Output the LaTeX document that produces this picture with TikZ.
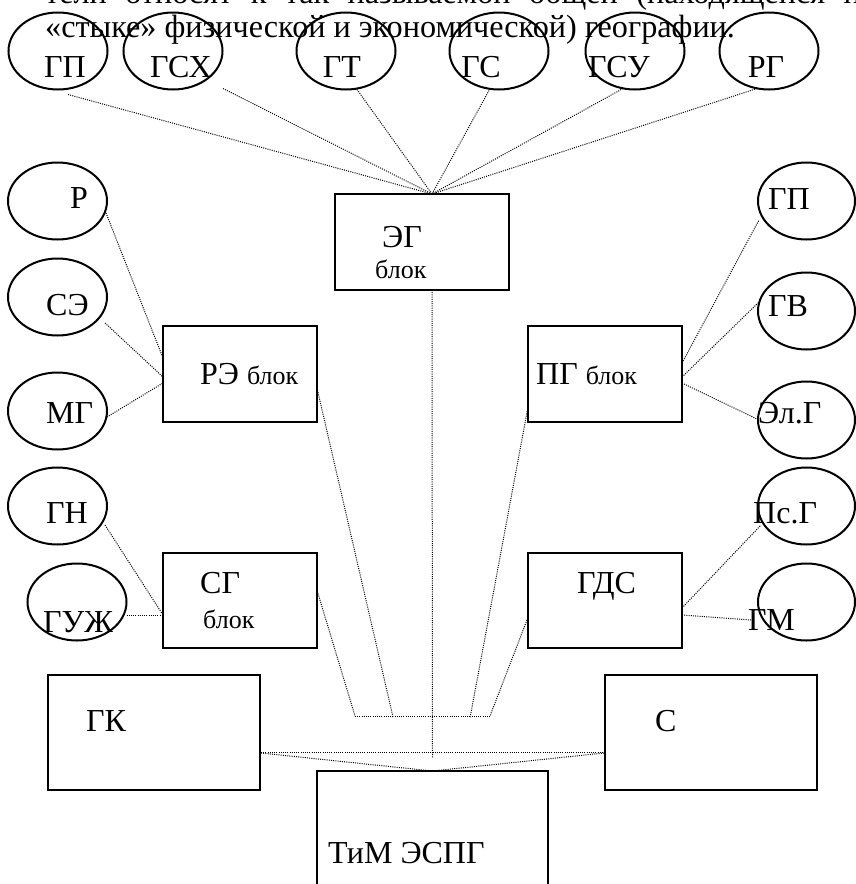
\documentclass[tikz,border=0pt]{standalone}
\usepackage{fontspec}
\setmainfont{Liberation Serif}
\usetikzlibrary{positioning, shapes.geometric, calc}

\newcommand{\blocksize}{\fontsize{26}{30}\selectfont}

\begin{document}
\begin{tikzpicture}[x=1pt, y=1pt]
		% 定义节点样式
			\tikzstyle{blk} = [rectangle, draw, line width=2pt, inner sep=0pt, outer sep=0pt]
			\tikzstyle{oval} = [ellipse, draw, line width=2pt, minimum width=99pt, minimum height=77pt, inner sep=0pt, outer sep=0pt]
			\tikzstyle{txt} = [inner sep=0pt, anchor=base west, font=\fontsize{32}{36}\selectfont]
			\tikzstyle{smalltxt} = [inner sep=0pt, anchor=base west, font=\blocksize]
			\tikzstyle{link} = [line width=1pt, dash pattern=on 1pt off 1.2pt]
			
			\useasboundingbox (0,0) rectangle (856,-884);
			
			% 正文
			\node [txt, font=\fontsize{32.2}{36}\selectfont] (line1) at (45,-3) {\makebox[830pt][s]{тели относят к так называемой общей (находящейся на}};
			\node [txt, font=\fontsize{32.2}{36}\selectfont] (line2) at (45,-37) {«стыке» физической и экономической) географии.};
			
			% 绘制节点
			\node [oval] (gp1) at (58,-51) {};
			\node [oval] (gsx) at (173,-51) {};
			\node [oval] (gt) at (346,-51) {};
			\node [oval] (gs) at (499,-51) {};
			\node [oval] (gsu) at (635,-51) {};
			\node [oval] (rg) at (769,-51) {};
			\node [txt, anchor=base] (gp1t) at ($(gp1)+(7,-26)$) {ГП};
			\node [txt, anchor=base] (gsxt) at ($(gsx)+(8,-26)$) {ГСХ};
			\node [txt, anchor=base] (gtt) at ($(gt)+(-4,-26)$) {ГТ};
			\node [txt, anchor=base] (gst) at ($(gs)+(-18,-26)$) {ГС};
			\node [txt, anchor=base] (gsut) at ($(gsu)+(-16,-26)$) {ГСУ};
			\node [txt, anchor=base] (rgt) at ($(rg)+(-3,-26)$) {РГ};
			
			\node [oval] (r) at (57.5,-201) {};
			\node [oval] (se) at (57.5,-297) {};
			\node [oval] (mg) at (57.5,-411) {};
			\node [oval] (gn) at (57.5,-506) {};
			\node [oval] (guzh) at (77,-602) {};
			\node [txt] (rt) at (70,-208) {Р};
			\node [txt] (set) at (46,-315) {СЭ};
			\node [txt] (mgt) at (46,-423) {МГ};
			\node [txt] (gnt) at (46,-523) {ГН};
			\node [txt] (guzht) at (43,-632) {ГУЖ};
			
			\node [oval, minimum width=97pt] (gp2) at (806.5,-201) {};
			\node [oval, minimum width=97pt] (gv) at (806.5,-311) {};
			\node [oval, minimum width=97pt] (elg) at (806.5,-420) {};
			\node [oval, minimum width=97pt] (psg) at (806.5,-506) {};
			\node [oval, minimum width=97pt] (gm) at (806.5,-602) {};
			\node [txt] (gp2t) at (768,-209) {ГП};
			\node [txt] (gvt) at (768,-316) {ГВ};
			\node [txt] (elgt) at (758,-423) {Эл.Г};
			\node [txt] (psgt) at (753,-523) {Пс.Г};
			\node [txt] (gmt) at (748,-630) {ГМ};
			
			\node [blk, minimum width=174pt, minimum height=96pt] (eg) at (422,-242) {};
			\node [blk, minimum width=154pt, minimum height=96pt] (re) at (240,-374) {};
			\node [blk, minimum width=154pt, minimum height=96pt, right=211pt of re] (pg) {};
			\node [blk, minimum width=154pt, minimum height=95pt, below=131pt of re] (sg) {};
			\node [blk, minimum width=154pt, minimum height=95pt, below=131pt of pg] (gds) {};
			\node [blk, minimum width=212pt, minimum height=115pt] (gk) at (154,-732.5) {};
			\node [blk, minimum width=212pt, minimum height=115pt] (s) at (711,-732.5) {};
			\node [blk, minimum width=231pt, minimum height=140pt] (tim) at (432.5,-841) {};
			
			\node [txt] (egt) at ([xshift=47pt,yshift=-53pt]eg.north west) {ЭГ};
			\node [smalltxt] (egb) at ([xshift=40pt,yshift=-84pt]eg.north west) {блок};
			\node [txt] (ret) at ([xshift=37pt,yshift=-58pt]re.north west) {РЭ {\blocksize блок}};
			\node [txt] (pgt) at ([xshift=8pt,yshift=-58pt]pg.north west) {ПГ {\blocksize блок}};
			\node [txt] (sgt) at ([xshift=37pt,yshift=-40pt]sg.north west) {СГ};
			\node [smalltxt] (sgb) at ([xshift=40pt,yshift=-75pt]sg.north west) {блок};
			\node [txt] (gdst) at ([xshift=49pt,yshift=-40pt]gds.north west) {ГДС};
			\node [txt] (gkt) at ([xshift=38pt,yshift=-56pt]gk.north west) {ГК};
			\node [txt] (st) at ([xshift=50pt,yshift=-56pt]s.north west) {С};
			\node [txt] (timt) at ([xshift=11pt,yshift=-92pt]tim.north west) {ТиМ ЭСПГ};
			
			\coordinate (egtop) at ($(eg.north)+(10,0)$);
			\coordinate (egbottom) at ($(eg.south)+(10,0)$);
			\coordinate (gp1end) at ($(gp1.south)+(10,-5)$);
			\coordinate (gsxend) at ($(gsx.south)+(50,1)$);
			\coordinate (gtend) at ($(gt.south)+(11,0)$);
			\coordinate (gsend) at ($(gs.south)+(-10,-1)$);
			\coordinate (gsuend) at ($(gsu.south)+(-12,1)$);
			\coordinate (rgend) at ($(rg.south)+(-12,1)$);
			
			\coordinate (hubwest) at ($(tim.north)+(-77.5,55)$);
			\coordinate (hubre) at ($(tim.north)+(-39.5,54)$);
			\coordinate (hubmid) at ($(tim.north)+(0,13)$);
			\coordinate (hubpg) at ($(tim.north)+(37.5,53)$);
			\coordinate (hubeast) at ($(tim.north)+(57.5,55)$);
			
			% 连线
			\draw [link] (gp1end) -- (egtop);
			\draw [link] (gsxend) -- (egtop);
			\draw [link] (gtend) -- (egtop);
			\draw [link] (gsend) -- (egtop);
			\draw [link] (gsuend) -- (egtop);
			\draw [link] (rgend) -- (egtop);
			
			\draw [link] ($(r.east)+(-1,-12)$) -- ($(re.west)+(0,16)$);
			\draw [link] ($(se.east)+(-2,-26)$) -- ($(re.west)+(0,-3)$);
			\draw [link] ($(mg.east)+(0,-6)$) -- ($(re.west)+(0,-9)$);
			\draw [link] ($(gn.east)+(-2,-19)$) -- ($(sg.west)+(0,-14.5)$);
			\draw [link] ($(guzh.east)+(0,-13)$) -- ($(sg.west)+(0,-14.5)$);
			
			\draw [link] ($(pg.east)+(0,11)$) -- ($(gp2.west)+(1,-19)$);
			\draw [link] ($(pg.east)+(0,-3)$) -- ($(gv.west)+(1,9)$);
			\draw [link] ($(pg.east)+(0,-9)$) -- ($(elg.west)+(1,0)$);
			\draw [link] ($(gds.east)+(0,-7.5)$) -- ($(psg.west)+(3,-19)$);
			\draw [link] ($(gds.east)+(0,-14.5)$) -- ($(gm.west)+(-7,-18)$);
			
			\draw [link] (egbottom) -- (hubmid);
			\draw [link] ($(re.east)+(0,-14)$) -- (hubre);
			\draw [link] ($(sg.east)+(1,7)$) -- (hubwest);
			\draw [link] ($(pg.west)+(0,-33)$) -- (hubpg);
			\draw [link] ($(gds.west)+(-1,-19.5)$) -- (hubeast);
			\draw [link] (hubwest) -- (hubeast);
			
			\draw [link] ($(gk.east)+(1,-19.5)$) -- ($(s.west)+(-1,-19.5)$);
			\draw [link] ($(gk.east)+(1,-20.5)$) -- (tim.north);
			\draw [link] ($(s.west)+(-1,-20.5)$) -- (tim.north);
		\end{tikzpicture}
\end{document}
